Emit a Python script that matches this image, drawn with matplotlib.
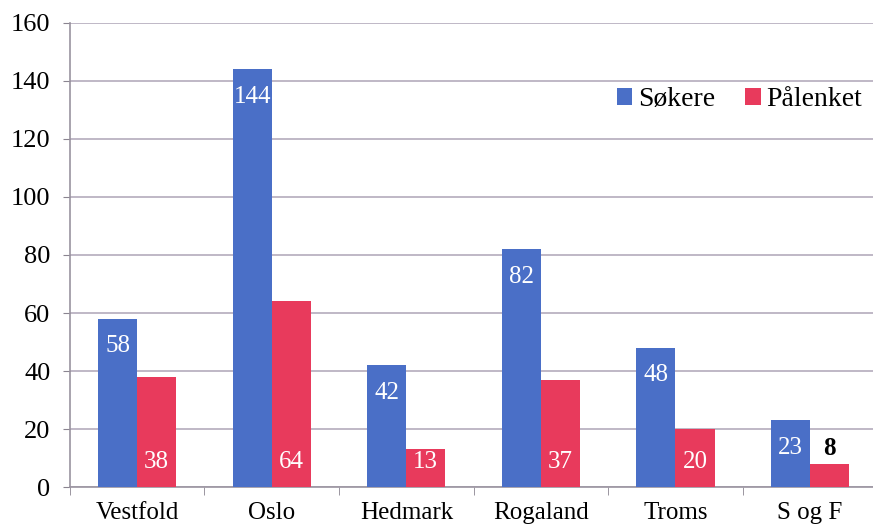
import numpy as np
import matplotlib
matplotlib.use("Agg")
import matplotlib.pyplot as plt

plt.rcParams['font.family'] = ['Liberation Serif', 'DejaVu Serif']

fylker = ['Vestfold', 'Oslo', 'Hedmark', 'Rogaland', 'Troms', 'S og F']
sokere = [58, 144, 42, 82, 48, 23]
palenket = [38, 64, 13, 37, 20, 8]

blue = '#4a6fc7'
red = '#e83a5c'
grid_col = '#b4acbc'

fig = plt.figure(figsize=(8.73, 5.29), dpi=100)
ax = fig.add_axes([0.080, 0.079, 0.925, 0.878])

x = np.arange(len(fylker))
w = 0.29
b1 = ax.bar(x - w / 2, sokere, w, color=blue, label='Søkere', zorder=3)
b2 = ax.bar(x + w / 2, palenket, w, color=red, label='Pålenket', zorder=3)

# labels: blue near top of bar, red near the base
for rect, v in zip(b1, sokere):
    ax.text(rect.get_x() + rect.get_width() / 2, v - 9.5, str(v),
            ha='center', va='center', color='white', fontsize=18, zorder=4)
for rect, v in zip(b2, palenket):
    if v < 10:
        ax.text(rect.get_x() + rect.get_width() / 2, v + 5.5, str(v),
                ha='center', va='center', color='black', fontsize=18,
                fontweight='bold', zorder=4)
    else:
        ax.text(rect.get_x() + rect.get_width() / 2, 8.8, str(v),
                ha='center', va='center', color='white', fontsize=18, zorder=4)

ax.set_ylim(0, 160)
ax.set_yticks(range(0, 161, 20))
ax.set_xlim(-0.5, len(fylker) - 0.5)
ax.set_xticks(x)
ax.set_xticklabels(fylker)
ax.set_xticks(np.arange(-0.5, len(fylker), 1.0), minor=True)
ax.tick_params(axis='x', which='major', length=0, labelsize=18, pad=11)
ax.tick_params(axis='x', which='minor', length=6, color='#8a8490')
ax.tick_params(axis='y', length=5, color='#8a8490', labelsize=19, pad=9)

ax.yaxis.grid(True, color=grid_col, linewidth=1.2, zorder=0)
for s in ['top', 'right']:
    ax.spines[s].set_visible(False)
for s in ['left', 'bottom']:
    ax.spines[s].set_color('#9a94a0')
    ax.spines[s].set_linewidth(1.2)

ax.legend(loc='upper right', bbox_to_anchor=(1.012, 0.915), frameon=False,
          fontsize=20, handlelength=0.55, handleheight=0.55, handletextpad=0.2,
          columnspacing=1.1, ncol=2)

fig.savefig('out.png', dpi=100)
